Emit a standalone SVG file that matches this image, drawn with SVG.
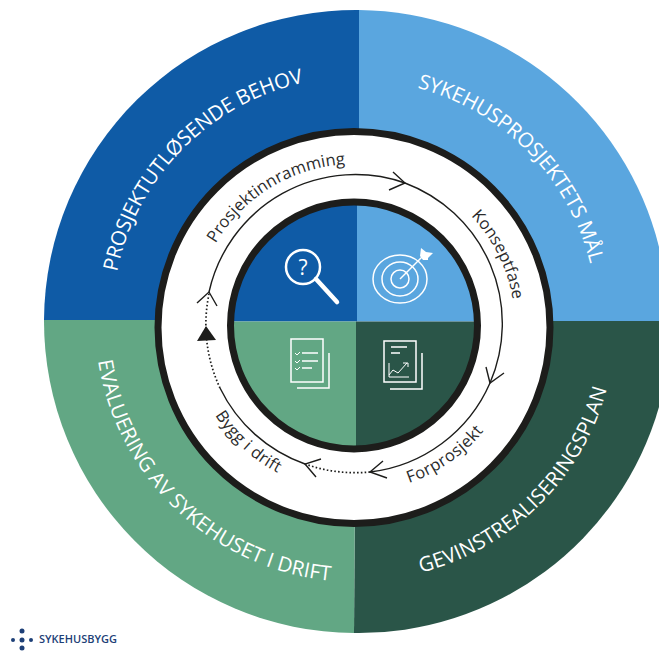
<svg xmlns="http://www.w3.org/2000/svg" width="659" height="651" viewBox="0 0 659 651">
<style>
.t{font-family:"Open Sans","Noto Sans",sans-serif}
.o{font-size:20.5px;fill:#fff}
.r{font-size:16.500px;fill:#2b2b2b}
.ln{fill:none;stroke:#1d1d1b;stroke-width:1.4}
.dot{fill:none;stroke:#1d1d1b;stroke-width:1.7;stroke-dasharray:1.6 2.2}
.ic{fill:none;stroke:#fff;stroke-width:1.5}
.tk{fill:none;stroke:#fff;stroke-width:1}
</style>
<defs>
<path id="pa" d="M117 272A244 244 0 0 1 324.200 79.100"/>
<path id="pb" d="M417.200 87.900A241 241 0 0 1 594.700 287.500"/>
<path id="pc" d="M421.100 572.700A260 260 0 0 0 612 366.100"/>
<path id="pd" d="M98.100 360.900A261 261 0 0 0 346.900 581.800"/>
<path id="pe" d="M215.600 243.500A162 162 0 0 1 369 164.600"/>
<path id="pf" d="M471 215.900A160 160 0 0 1 515 326"/>
<path id="pg" d="M409 483A166 166 0 0 0 498.800 409"/>
<path id="ph" d="M215 415.200A166 166 0 0 0 298.200 482"/>
</defs>
<rect width="659" height="651" fill="#fff"/>
<g id="outer-wheel">
<path d="M359 321V10A312 312 0 0 0 44 320Z" fill="#0f5ba6"/>
<path d="M359 10A312 312 0 0 1 659 247V322H359Z" fill="#5aa6df"/>
<path d="M356 321H659V407A312 312 0 0 1 354 633Z" fill="#2a5548"/>
<path d="M44 320H356L354 633A312 312 0 0 1 44 320Z" fill="#62a784"/>
</g>
<g id="ring"><circle cx="354" cy="327.500" r="196" fill="#fff" stroke="#1d1d1b" stroke-width="7"/></g>
<g id="inner-wheel">
<path d="M357 321.500V202A124 124 0 0 0 231 321.500Z" fill="#0f5ba6"/>
<path d="M357 321.500V202A124 124 0 0 1 477 321.500Z" fill="#5aa6df"/>
<path d="M356 321.500H477A124 124 0 0 1 356 449Z" fill="#2a5548"/>
<path d="M356 321.500H231A124 124 0 0 0 356 449Z" fill="#62a784"/>
<circle cx="354" cy="325.500" r="123.500" fill="none" stroke="#1d1d1b" stroke-width="7"/>
</g>
<g id="connectors">
<path class="ln" d="M209 292A150 150 0 0 1 405 183"/>
<path class="ln" d="M405 183A150 150 0 0 1 490 383"/>
<path class="ln" d="M490 383A150 150 0 0 1 370 472"/>
<path class="dot" d="M370 472A150 150 0 0 1 305 464"/>
<path class="ln" d="M305 464A150 150 0 0 1 220 388"/>
<path class="dot" d="M220 388A150 150 0 0 1 209 294"/>
<path class="ln" d="M197 303L209 292L217 306"/>
<path class="ln" d="M393 172L405 183L389 190"/>
<path class="ln" d="M486 367L490 383L504 373"/>
<path class="ln" d="M383 461L370 472L387 478"/>
<path class="ln" d="M321 459L305 464L316 477"/>
<path d="M197 341L206 326L216 340Z" fill="#1d1d1b"/>
</g>
<g id="outer-labels">
<text class="t o" textLength="281"><textPath href="#pa">PROSJEKTUTLØSENDE BEHOV</textPath></text>
<text class="t o" textLength="259"><textPath href="#pb">SYKEHUSPROSJEKTETS MÅL</textPath></text>
<text class="t o" textLength="274"><textPath href="#pc">GEVINSTREALISERINGSPLAN</textPath></text>
<text class="t o" textLength="344"><textPath href="#pd">EVALUERING AV SYKEHUSET I DRIFT</textPath></text>
</g>
<g id="ring-labels">
<text class="t r" textLength="158"><textPath href="#pe">Prosjektinnramming</textPath></text>
<text class="t r" textLength="95"><textPath href="#pf">Konseptfase</textPath></text>
<text class="t r" textLength="92"><textPath href="#pg">Forprosjekt</textPath></text>
<text class="t r" textLength="86"><textPath href="#ph">Bygg i drift</textPath></text>
</g>
<g id="icon-search">
<circle cx="303" cy="267" r="17" fill="none" stroke="#fff" stroke-width="2.500"/>
<path d="M316 279L337 302" fill="none" stroke="#fff" stroke-width="4.500" stroke-linecap="round"/>
<text class="t" x="303" y="274.500" font-size="21" text-anchor="middle" fill="#fff">?</text>
</g>
<g id="icon-target">
<ellipse class="ic" cx="400" cy="279" rx="27" ry="24"/>
<ellipse class="ic" cx="400" cy="279" rx="18" ry="17"/>
<ellipse class="ic" cx="400" cy="279" rx="9" ry="9"/>
<path class="ic" d="M400 279L424 255"/>
<path d="M420 256L421 248L426 252L433 253L428 258L428 260L423 260Z" fill="#fff"/>
</g>
<g id="icon-list">
<rect class="ic" x="291" y="339" width="32" height="43"/>
<path class="ic" d="M329 353V388H297"/>
<path class="ic" d="M302 353H318M302 361H318M302 368H312"/>
<path class="tk" d="M295 353l2 2 3-3M295 361l2 2 3-3M295 368l2 2 3-3"/>
</g>
<g id="icon-chart">
<rect class="ic" x="384" y="341" width="32" height="41"/>
<path class="ic" d="M422 353V389H390"/>
<path class="ic" d="M391 347H407M391 353H400"/>
<path class="tk" d="M389 363V377H409M389 375L393 370L398 373L407 363M403 363H408V367"/>
</g>
<g id="logo">
<g fill="#1d3f77"><circle cx="22" cy="631" r="2.500"/><circle cx="22" cy="648" r="2.500"/><circle cx="13" cy="640" r="2"/><circle cx="22" cy="640" r="2.500"/><circle cx="31" cy="640" r="2"/></g>
<text class="t" x="39" y="643" font-size="11" font-weight="600" fill="#1d3f77">SYKEHUSBYGG</text>
</g>
</svg>
